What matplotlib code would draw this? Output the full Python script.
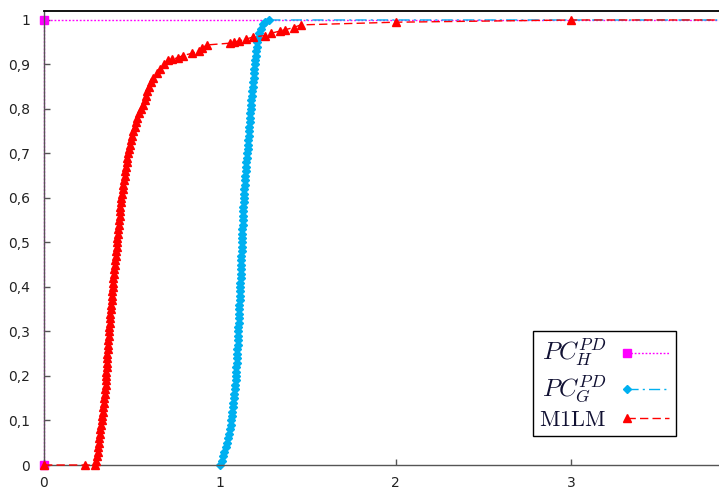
import matplotlib
matplotlib.use("Agg")
import matplotlib.pyplot as plt
from matplotlib.legend_handler import HandlerBase
from matplotlib.lines import Line2D

plt.rcParams['mathtext.fontset'] = 'cm'
plt.rcParams['font.family'] = ['DejaVu Sans']

# ---------------- data ----------------
series_labels = [r'$PC_H^{PD}$', r'$PC_G^{PD}$', r'$\mathrm{M1LM}$']

pch_x = [0.0, 0.0]
pch_y = [0.0, 1.0]

pcg_x = [1.000, 1.010, 1.018, 1.026, 1.034, 1.040, 1.046, 1.052, 1.057, 1.062,
         1.066, 1.069, 1.072, 1.075, 1.078, 1.080, 1.082, 1.085, 1.087, 1.090,
         1.092, 1.093, 1.095, 1.096, 1.097, 1.098, 1.100, 1.101, 1.102, 1.104,
         1.105, 1.106, 1.107, 1.108, 1.110, 1.111, 1.112, 1.113, 1.114, 1.115,
         1.116, 1.117, 1.118, 1.119, 1.120, 1.121, 1.122, 1.123, 1.124, 1.125,
         1.126, 1.127, 1.128, 1.129, 1.130, 1.131, 1.132, 1.133, 1.134, 1.135,
         1.136, 1.138, 1.140, 1.142, 1.144, 1.146, 1.148, 1.150, 1.152, 1.154,
         1.156, 1.158, 1.160, 1.162, 1.164, 1.166, 1.168, 1.170, 1.172, 1.174,
         1.176, 1.178, 1.180, 1.182, 1.185, 1.187, 1.190, 1.192, 1.195, 1.197,
         1.200, 1.203, 1.205, 1.207, 1.210, 1.214, 1.218, 1.224, 1.232, 1.245,
         1.260, 1.280]
pcg_y = [0.00, 0.01, 0.02, 0.03, 0.04, 0.05, 0.06, 0.07, 0.08, 0.09,
         0.10, 0.11, 0.12, 0.13, 0.14, 0.15, 0.16, 0.17, 0.18, 0.19,
         0.20, 0.21, 0.22, 0.23, 0.24, 0.25, 0.26, 0.27, 0.28, 0.29,
         0.30, 0.31, 0.32, 0.33, 0.34, 0.35, 0.36, 0.37, 0.38, 0.39,
         0.40, 0.41, 0.42, 0.43, 0.44, 0.45, 0.46, 0.47, 0.48, 0.49,
         0.50, 0.51, 0.52, 0.53, 0.54, 0.55, 0.56, 0.57, 0.58, 0.59,
         0.60, 0.61, 0.62, 0.63, 0.64, 0.65, 0.66, 0.67, 0.68, 0.69,
         0.70, 0.71, 0.72, 0.73, 0.74, 0.75, 0.76, 0.77, 0.78, 0.79,
         0.80, 0.81, 0.82, 0.83, 0.84, 0.85, 0.86, 0.87, 0.88, 0.89,
         0.90, 0.91, 0.92, 0.93, 0.94, 0.95, 0.96, 0.97, 0.98, 0.99,
         0.995, 1.00]

m1lm_x = [0.0, 0.234,
          0.290, 0.296, 0.300, 0.305, 0.310, 0.312, 0.315, 0.318, 0.320, 0.325,
          0.330, 0.332, 0.335, 0.338, 0.340, 0.343, 0.345, 0.348, 0.350, 0.352,
          0.353, 0.355, 0.356, 0.358, 0.360, 0.361, 0.362, 0.364, 0.365, 0.368,
          0.370, 0.372, 0.375, 0.377, 0.378, 0.380, 0.382, 0.384, 0.386, 0.388,
          0.390, 0.393, 0.395, 0.398, 0.400, 0.403, 0.405, 0.408, 0.410, 0.413,
          0.415, 0.418, 0.420, 0.423, 0.425, 0.428, 0.430, 0.433, 0.435, 0.438,
          0.440, 0.444, 0.448, 0.452, 0.455, 0.459, 0.462, 0.466, 0.470, 0.475,
          0.480, 0.485, 0.490, 0.495, 0.500, 0.508, 0.515, 0.522, 0.530, 0.540,
          0.550, 0.562, 0.575, 0.582, 0.588, 0.597, 0.610, 0.620, 0.640, 0.660,
          0.680, 0.705,
          0.73, 0.76, 0.79, 0.84, 0.88, 0.90, 0.93, 1.06, 1.08, 1.11, 1.15,
          1.19, 1.26, 1.29, 1.34, 1.37, 1.42, 1.46, 2.0, 3.0]
m1lm_y = [0.0, 0.0,
          0.00, 0.01, 0.02, 0.03, 0.04, 0.05, 0.06, 0.07, 0.08, 0.09,
          0.10, 0.11, 0.12, 0.13, 0.14, 0.15, 0.16, 0.17, 0.18, 0.19,
          0.20, 0.21, 0.22, 0.23, 0.24, 0.25, 0.26, 0.27, 0.28, 0.29,
          0.30, 0.31, 0.32, 0.33, 0.34, 0.35, 0.36, 0.37, 0.38, 0.39,
          0.40, 0.41, 0.42, 0.43, 0.44, 0.45, 0.46, 0.47, 0.48, 0.49,
          0.50, 0.51, 0.52, 0.53, 0.54, 0.55, 0.56, 0.57, 0.58, 0.59,
          0.60, 0.61, 0.62, 0.63, 0.64, 0.65, 0.66, 0.67, 0.68, 0.69,
          0.70, 0.71, 0.72, 0.73, 0.74, 0.75, 0.76, 0.77, 0.78, 0.79,
          0.80, 0.81, 0.82, 0.83, 0.84, 0.85, 0.86, 0.87, 0.88, 0.89,
          0.90, 0.91,
          0.912, 0.915, 0.92, 0.925, 0.93, 0.938, 0.944, 0.948, 0.95, 0.953, 0.957,
          0.962, 0.965, 0.97, 0.975, 0.978, 0.983, 0.989, 0.995, 1.0]

x_ticks = [0, 1, 2, 3]
x_ticklabels = ['0', '1', '2', '3']
y_ticks = [0, 0.1, 0.2, 0.3, 0.4, 0.5, 0.6, 0.7, 0.8, 0.9, 1.0]
y_ticklabels = ['0', '0,1', '0,2', '0,3', '0,4', '0,5', '0,6', '0,7', '0,8', '0,9', '1']

XMAX = 3.84
YMAX = 1.0202

# ---------------- figure ----------------
fig = plt.figure(figsize=(7.19, 4.90), dpi=100)
ax = fig.add_axes([44 / 719, 25 / 490, 675 / 719, 454 / 490])
ax.set_xlim(0, XMAX)
ax.set_ylim(0, YMAX)

styles = [
    dict(color='#FF00FF', marker='s', markersize=5.5, linestyle=(0, (1.3, 1.3)), linewidth=1.0),
    dict(color='#00B0F0', marker='D', markersize=4.3, linestyle=(0, (8, 3, 1.5, 3)), linewidth=1.0),
    dict(color='#FF0000', marker='^', markersize=6.0, linestyle=(0, (6, 3)), linewidth=1.0),
]
zorders = [1.8, 2.0, 2.2]
data = [(pch_x, pch_y), (pcg_x, pcg_y), (m1lm_x, m1lm_y)]

handles = []
for (xs, ys), st, lab, z in zip(data, styles, series_labels, zorders):
    xe = list(xs) + [XMAX + 0.2]
    ye = list(ys) + [1.0]
    h, = ax.plot(xe, ye, markevery=list(range(len(xs))), label=lab,
                 clip_on=False, zorder=z, **st)
    handles.append(h)

# axes styling
ax.spines['right'].set_visible(False)
ax.spines['top'].set_color('black')
ax.spines['top'].set_linewidth(1.3)
for s in ['left', 'bottom']:
    ax.spines[s].set_color('#555555')
    ax.spines[s].set_linewidth(1.0)
    ax.spines[s].set_zorder(2.1)

ax.set_xticks(x_ticks)
ax.set_xticklabels(x_ticklabels)
ax.set_yticks(y_ticks)
ax.set_yticklabels(y_ticklabels)
ax.tick_params(direction='in', length=4, width=1, color='#555555',
               labelsize=10, labelcolor='#222222')
ax.tick_params(axis='x', pad=8)
ax.tick_params(axis='y', pad=10)


class LeftMarkerHandler(HandlerBase):
    def __init__(self, style):
        super().__init__()
        self.style = style

    def create_artists(self, legend, orig_handle, xdescent, ydescent,
                       width, height, fontsize, trans):
        st = self.style
        y = (height - ydescent) / 2.0
        x0 = -xdescent
        line = Line2D([x0 + 0.15 * width, x0 + width], [y, y],
                      color=st['color'], linestyle=st['linestyle'],
                      linewidth=st['linewidth'], marker='None')
        mark = Line2D([x0 + 0.15 * width], [y], linestyle='None',
                      marker=st['marker'], markersize=st['markersize'],
                      color=st['color'])
        line.set_transform(trans)
        mark.set_transform(trans)
        return [line, mark]


leg = ax.legend(handles=handles, labels=series_labels, loc='lower left',
                bbox_to_anchor=(0.724, 0.064), markerfirst=False, fontsize=16,
                frameon=True, fancybox=False, framealpha=1, edgecolor='black',
                handlelength=2.25, handletextpad=0.6, labelspacing=0.2,
                borderpad=0.28, borderaxespad=0,
                handler_map={h: LeftMarkerHandler(st) for h, st in zip(handles, styles)})
leg.get_frame().set_linewidth(1.0)
texts = leg.get_texts()
for t in texts:
    t.set_color('#111133')
texts[0].set_fontsize(18)
texts[1].set_fontsize(18)

fig.savefig('out.png', dpi=100)
